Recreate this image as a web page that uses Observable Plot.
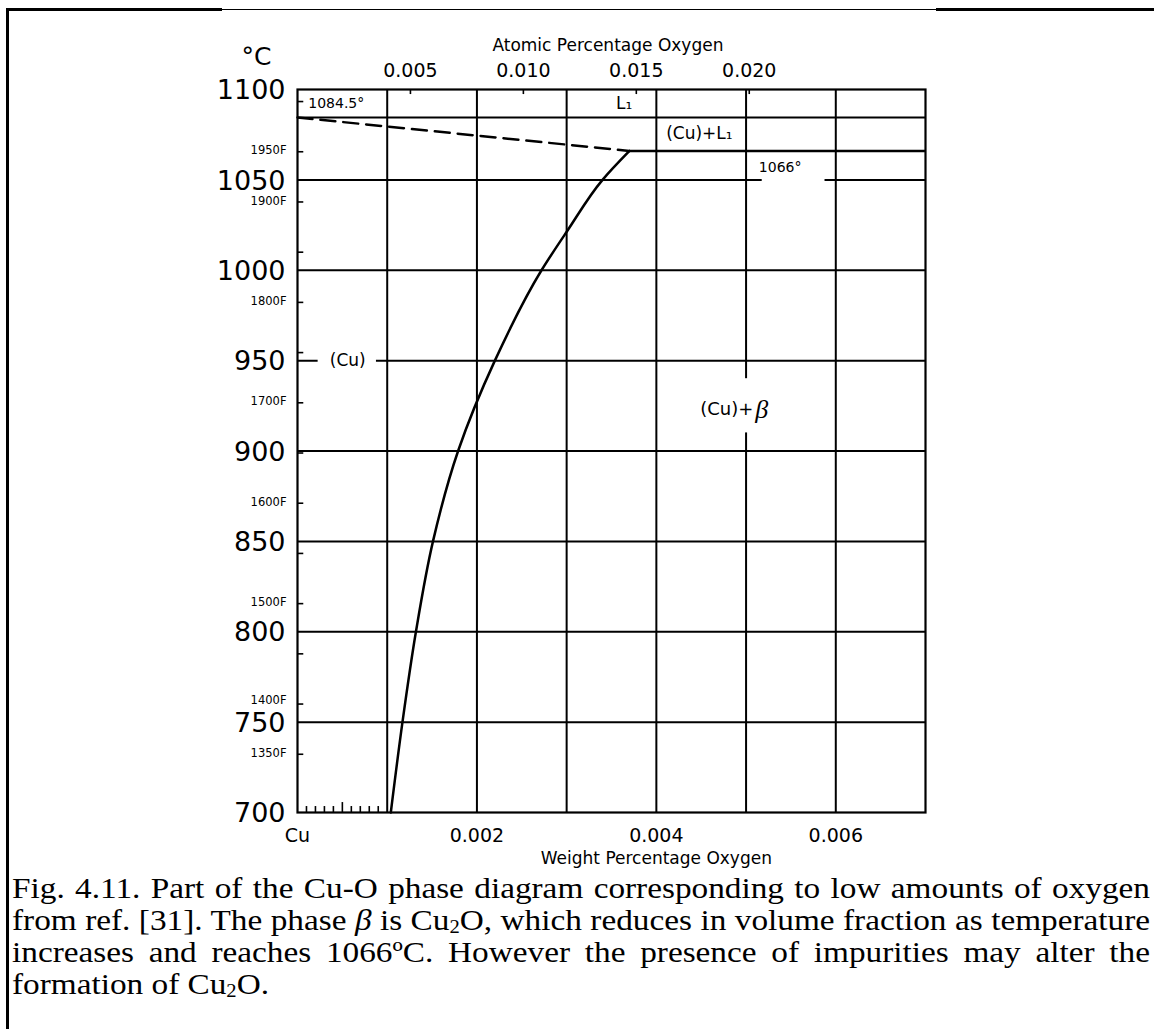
<!DOCTYPE html>
<html><head><meta charset="utf-8">
<script src="https://cdn.jsdelivr.net/npm/d3@7"></script>
<script src="https://cdn.jsdelivr.net/npm/@observablehq/plot@0.6"></script>
<style>
html,body{margin:0;padding:0;background:#fff;}
#page{position:relative;width:1154px;height:1029px;overflow:hidden;background:#fff;}
.bd{position:absolute;background:#000;}
#chart{position:absolute;left:0;top:0;}
#caption{position:absolute;left:12px;top:872px;font-family:"Liberation Serif","Times New Roman",serif;font-size:30px;line-height:32px;color:#000;transform-origin:0 0;}
#caption .ln{text-align:justify;text-align-last:justify;white-space:nowrap;}
#caption .ln.last{text-align-last:left;}
#caption sub{font-size:0.62em;vertical-align:-0.15em;line-height:0;}
</style></head><body>
<div id="page">
<div id="chart"></div>
<div id="caption"></div>
<div class="bd" style="left:6px;top:8px;width:2.5px;height:1021px"></div>
<div class="bd" style="left:6px;top:8px;width:216px;height:2.5px"></div>
<div class="bd" style="left:222px;top:8.5px;width:714px;height:1.3px"></div>
<div class="bd" style="left:936px;top:8px;width:218px;height:3px"></div>
</div>
<script>
// ---- data ----
const tempTicks = [1100, 1050, 1000, 950, 900, 850, 800, 750, 700];
const gridTemps = [1050, 1000, 950, 900, 850, 800, 750];
const wtGrid = [0.001, 0.002, 0.003, 0.004, 0.005, 0.006];
const wtLabelValues = [0, 0.002, 0.004, 0.006];
const wtLabelText = ["Cu", "0.002", "0.004", "0.006"];
const minorWt = [0.0001, 0.0002, 0.0003, 0.0004, 0.0005, 0.0006, 0.0007, 0.0008, 0.0009];
const atomicTicks = [0.005, 0.010, 0.015, 0.020];
const fTicks = [2000, 1950, 1900, 1850, 1800, 1750, 1700, 1650, 1600, 1550, 1500, 1450, 1400, 1350];
const fLabeled = [1950, 1900, 1800, 1700, 1600, 1500, 1350];
const fLabeledTight = [1400];
// solvus of (Cu) : weight % O vs temperature °C
const solvusWt = [0.00104, 0.00117, 0.00132, 0.00151, 0.00179, 0.00220, 0.00272, 0.00301, 0.00340, 0.00370];
const solvusT  = [700, 750, 800, 850, 900, 950, 1000, 1022, 1050, 1066];
// liquidus (dashed) from Cu melting point to the eutectic
const liquidusWt = [0, 0.00370];
const liquidusT  = [1084.5, 1066];
const meltT = 1084.5;
const eutecticT = 1066;
const captionLines = [
  "Fig. 4.11. Part of the Cu-O phase diagram corresponding to low amounts of oxygen",
  "from ref. [31]. The phase <i>β</i> is Cu<sub>2</sub>O, which reduces in volume fraction as temperature",
  "increases and reaches 1066ºC. However the presence of impurities may alter the",
  "formation of Cu<sub>2</sub>O."
];

// ---- helpers ----
const atToWt = a => a * 15.999 / 63.546;
const fToC = f => (f - 32) * 5 / 9;
const font = "'DejaVu Sans', Lato, sans-serif";
const W = 1154, H = 880;
const xMax = 0.007;

const plot = Plot.plot({
  width: W, height: H,
  marginLeft: 297, marginRight: W - 925, marginTop: 89, marginBottom: H - 812,
  x: {domain: [0, xMax], axis: null},
  y: {domain: [700, 1100], axis: null},
  style: {fontFamily: font, color: "#000", background: "transparent", overflow: "visible"},
  marks: [
    Plot.ruleY(gridTemps, {stroke: "#000", strokeWidth: 2}),
    Plot.ruleX(wtGrid, {stroke: "#000", strokeWidth: 2}),
    Plot.ruleY([meltT], {stroke: "#000", strokeWidth: 2.2}),
    Plot.ruleY([eutecticT], {x1: solvusWt[solvusWt.length - 1], x2: xMax, stroke: "#000", strokeWidth: 2.5}),
    Plot.line(liquidusWt, {x: d => d, y: (d, i) => liquidusT[i], stroke: "#000", strokeWidth: 2.5, strokeDasharray: "15,8"}),
    Plot.line(solvusWt, {x: d => d, y: (d, i) => solvusT[i], curve: "monotone-y", stroke: "#000", strokeWidth: 2.5}),
    // white boxes behind region labels
    Plot.rect([0], {x1: 0.00023, x2: 0.00088, y1: 945, y2: 955, fill: "white"}),
    Plot.rect([0], {x1: 0.00452, x2: 0.00552, y1: 910, y2: 940, fill: "white"}),
    Plot.rect([0], {x1: 0.00518, x2: 0.00588, y1: 1047, y2: 1062, fill: "white"}),
    // region labels
    Plot.text(["(Cu)"], {x: 0.00056, y: 950, fontSize: 17, textAnchor: "middle"}),
    Plot.text(["(Cu)+"], {x: 0.00508, y: 923, fontSize: 18, textAnchor: "end"}),
    Plot.text(["β"], {x: 0.00508, y: 923, dx: 2, fontSize: 26, textAnchor: "start", fontStyle: "italic", fontFamily: "'Liberation Serif', serif"}),
    Plot.text(["1066°"], {x: 0.00538, y: 1057, fontSize: 14, textAnchor: "middle"}),
    Plot.text(["(Cu)+L₁"], {x: 0.00448, y: 1075.5, fontSize: 17, textAnchor: "middle"}),
    Plot.text(["L₁"], {x: 0.00364, y: 1092.5, fontSize: 17, textAnchor: "middle"}),
    Plot.text(["1084.5°"], {x: 0.00012, y: 1092.5, fontSize: 14, textAnchor: "start"}),
    // inward ticks
    Plot.ruleX(minorWt, {y1: 700, y2: d => Math.abs(d - 0.0005) < 1e-9 ? 705.5 : 703.3, stroke: "#000", strokeWidth: 1.6}),
    Plot.ruleY(fTicks.map(fToC), {x1: 0, x2: 0.00007, stroke: "#000", strokeWidth: 1.6}),
    Plot.ruleX(atomicTicks.map(atToWt), {y1: 1100, y2: 1097.2, stroke: "#000", strokeWidth: 1.6}),
    Plot.frame({stroke: "#000", strokeWidth: 2.2}),
    // left axis labels (°C)
    Plot.text(tempTicks, {x: 0, y: d => d, text: d => String(d), dx: -12, dy: 1, textAnchor: "end", fontSize: 27}),
    Plot.text(["°C"], {x: 0, y: 1100, dx: -41, dy: -33, fontSize: 25, textAnchor: "middle"}),
    // left axis labels (°F)
    Plot.text(fLabeled, {x: 0, y: d => fToC(d), text: d => d + "F", dx: -11, dy: -1, textAnchor: "end", fontSize: 11.5}),
    Plot.text(fLabeledTight, {x: 0, y: d => fToC(d), text: d => d + "F", dx: -11, dy: -4, textAnchor: "end", fontSize: 11.5}),
    // top axis: atomic percentage
    Plot.text(atomicTicks, {x: d => atToWt(d), y: 1100, dy: -19, text: d => d.toFixed(3), fontSize: 19}),
    Plot.text(["Atomic Percentage Oxygen"], {x: 0.00346, y: 1100, dy: -44, fontSize: 17}),
    // bottom axis: weight percentage
    Plot.text(wtLabelValues, {x: d => d, y: 700, dy: 23, text: (d, i) => wtLabelText[i], fontSize: 19}),
    Plot.text(["Weight Percentage Oxygen"], {x: 0.004, y: 700, dy: 46, fontSize: 17})
  ]
});
document.getElementById("chart").appendChild(plot);

// caption: justified lines, fitted to the reference's width
const cap = document.getElementById("caption");
const target = 1138;
let natural = 0;
captionLines.slice(0, 3).forEach(t => {
  const probe = document.createElement("span");
  probe.style.cssText = "position:absolute;visibility:hidden;white-space:nowrap;font-family:'Liberation Serif','Times New Roman',serif;font-size:30px;";
  probe.innerHTML = t.replace(/<sub>/g, '<sub style="font-size:0.62em">');
  document.body.appendChild(probe);
  natural = Math.max(natural, probe.getBoundingClientRect().width);
  probe.remove();
});
const sx = target / (natural + 2);
cap.style.width = (target / sx) + "px";
cap.style.transform = `scaleX(${sx})`;
captionLines.forEach((t, i) => {
  const d = document.createElement("div");
  d.className = "ln" + (i === captionLines.length - 1 ? " last" : "");
  d.innerHTML = t;
  cap.appendChild(d);
});
</script>
</body></html>
